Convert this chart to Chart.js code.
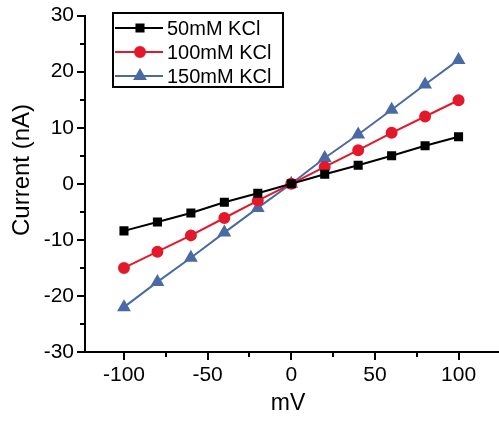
<!DOCTYPE html>
<html>
<head>
<meta charset="utf-8">
<script src="https://cdn.jsdelivr.net/npm/chart.js@4.4.1/dist/chart.umd.min.js"></script>
<style>
    html, body { margin: 0; padding: 0; background: #fff; }
    #wrap { width: 499px; height: 421px; }
</style>
</head>
<body>
<div id="wrap"><canvas id="ivChart"></canvas></div>
<script>
// voltage steps (mV)
const voltages = [-100, -80, -60, -40, -20, 0, 20, 40, 60, 80, 100];
// current (nA) per KCl concentration
const kcl50 = [-8.4, -6.8, -5.2, -3.3, -1.7, 0, 1.7, 3.3, 5.0, 6.8, 8.4];
const kcl100 = [-15.0, -12.1, -9.2, -6.1, -3.0, 0, 3.0, 6.0, 9.1, 12.0, 14.9];
const kcl150 = [-22.0, -17.5, -13.2, -8.7, -4.3, 0, 4.6, 8.8, 13.2, 17.7, 22.1];
const seriesNames = ['50mM KCl', '100mM KCl', '150mM KCl'];
const xTicks = [-100, -50, 0, 50, 100];
const xMinorTicks = [-75, -25, 25, 75];
const yTicks = [-30, -20, -10, 0, 10, 20, 30];
const yMinorTicks = [-25, -15, -5, 5, 15, 25];
const yTitle = 'Current (nA)';

const FONT = 'Arial, "Liberation Sans", sans-serif';
const colors = ['#000000', '#e3192b', '#4a6aa5'];
const markers = ['rect', 'circle', 'triangle'];

function toPoints(ys) {
    return voltages.map((v, i) => ({ x: v, y: ys[i] }));
}

function makeDataset(i, ys) {
    return {
        label: seriesNames[i],
        data: toPoints(ys),
        borderColor: colors[i],
        backgroundColor: colors[i],
        borderWidth: 2,
        pointStyle: markers[i],
        pointRadius: i === 2 ? 6 : 5,
        pointHoverRadius: 5,
        tension: 0,
    };
}

// minor ticks, y title and boxed legend
const extrasPlugin = {
    id: 'extras',
    afterDraw(chart) {
        const ctx = chart.ctx;
        const xs = chart.scales.x;
        const ysc = chart.scales.y;
        const area = chart.chartArea;
        const axisY = Math.round(area.bottom);
        ctx.save();
        ctx.strokeStyle = '#000';
        ctx.lineWidth = 2;
        ctx.beginPath();
        // x axis line runs on to the right edge in the original
        ctx.moveTo(area.right - 2, axisY);
        ctx.lineTo(chart.width, axisY);
        xMinorTicks.forEach((v) => {
            const px = Math.round(xs.getPixelForValue(v));
            ctx.moveTo(px, axisY);
            ctx.lineTo(px, axisY + 5);
        });
        yMinorTicks.forEach((v) => {
            const py = Math.round(ysc.getPixelForValue(v));
            ctx.moveTo(area.left, py);
            ctx.lineTo(area.left - 5, py);
        });
        ctx.stroke();

        // y axis title, sits a bit above the axis centre in the original
        ctx.save();
        ctx.translate(22, 170);
        ctx.rotate(-Math.PI / 2);
        ctx.fillStyle = '#000';
        ctx.font = `24px ${FONT}`;
        ctx.textAlign = 'center';
        ctx.textBaseline = 'middle';
        ctx.fillText(yTitle, 0, 0);
        ctx.restore();

        // legend
        const boxL = 113, boxT = 13, boxW = 170, boxH = 74;
        ctx.strokeStyle = '#000';
        ctx.lineWidth = 2;
        ctx.strokeRect(boxL, boxT, boxW, boxH);
        ctx.font = `20px ${FONT}`;
        ctx.textBaseline = 'middle';
        ctx.textAlign = 'left';
        seriesNames.forEach((name, i) => {
            const cy = boxT + 15 + i * 24;
            ctx.strokeStyle = colors[i];
            ctx.fillStyle = colors[i];
            ctx.lineWidth = 2;
            ctx.beginPath();
            ctx.moveTo(boxL + 2, cy);
            ctx.lineTo(boxL + 50, cy);
            ctx.stroke();
            Chart.helpers.drawPoint(ctx, {
                pointStyle: markers[i],
                radius: i === 2 ? 6 : 5,
                rotation: 0,
                borderWidth: 1,
            }, boxL + 27, cy);
            ctx.fillStyle = '#000';
            ctx.fillText(name, boxL + 54, cy + 1);
        });
        ctx.restore();
    },
};

new Chart(document.getElementById('ivChart'), {
    type: 'line',
    data: {
        datasets: [makeDataset(0, kcl50), makeDataset(1, kcl100), makeDataset(2, kcl150)],
    },
    options: {
        responsive: true,
        maintainAspectRatio: false,
        animation: false,
        layout: { padding: { top: 8, right: 0, left: 0, bottom: 0 } },
        plugins: {
            legend: { display: false },
            tooltip: { enabled: false },
        },
        scales: {
            x: {
                type: 'linear',
                min: -123.3,
                max: 119.4,
                afterBuildTicks(scale) {
                    scale.ticks = xTicks.map((v) => ({ value: v }));
                },
                afterFit(scale) {
                    scale.height = 69;
                },
                border: { color: '#000', width: 2 },
                grid: { drawOnChartArea: false, drawTicks: true, tickLength: 8, color: '#000', lineWidth: 2 },
                ticks: { color: '#000', font: { size: 21, family: FONT }, padding: 3, maxRotation: 0 },
                title: { display: true, text: 'mV', color: '#000', font: { size: 23, family: FONT }, padding: { top: 0 } },
            },
            y: {
                type: 'linear',
                min: -30,
                max: 30,
                afterBuildTicks(scale) {
                    scale.ticks = yTicks.map((v) => ({ value: v }));
                },
                afterFit(scale) {
                    scale.width = 85;
                },
                border: { color: '#000', width: 2 },
                grid: { drawOnChartArea: false, drawTicks: true, tickLength: 8, color: '#000', lineWidth: 2 },
                ticks: { color: '#000', font: { size: 21, family: FONT }, padding: 3 },
                title: { display: false },
            },
        },
    },
    plugins: [extrasPlugin],
});
</script>
</body>
</html>
